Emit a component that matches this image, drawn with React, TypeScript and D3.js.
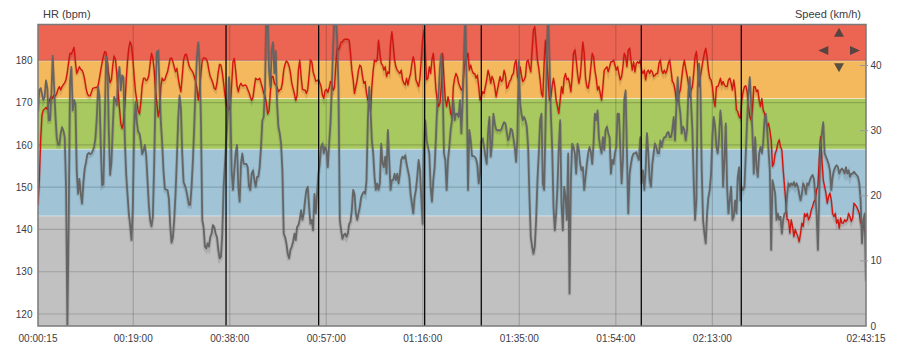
import React, { useEffect } from "react";
import * as d3 from "d3";

// ---- data -------------------------------------------------------------
const SAMPLE_START_S = 15;
const SAMPLE_INTERVAL_S = 15.774;

const hrBpm: number[] = [
  146, 151.7, 161.2, 167.1, 168.3, 168.5, 168.9, 168.4, 169.9, 171.0,
  171.6, 171.0, 171.8, 171.6, 172.1, 173.2, 173.8, 173.0, 173.8, 174.3,
  174.7, 175.5, 177.3, 179.7, 181.7, 181.5, 182.3, 183.1, 179.7, 176.9,
  177.7, 178.5, 177.9, 177.7, 176.9, 175.4, 173.4, 172.1, 171.6, 171.6,
  172.5, 173.4, 173.5, 173.6, 173.6, 174.0, 175.8, 177.7, 179.5, 181.0,
  182.1, 181.8, 179.3, 176.5, 174.7, 175.5, 178.9, 181.0, 180.3, 176.9,
  172.6, 168.7, 165.1, 163.9, 165.3, 169.2, 175.0, 179.7, 182.9, 184.4,
  183.6, 180.5, 176.2, 172.6, 170.5, 168.1, 167.3, 170.0, 174.0, 175.8,
  175.8, 175.2, 175.5, 176.5, 179.3, 181.7, 180.5, 177.7, 173.0, 169.9,
  166.7, 168.3, 173.8, 175.8, 175.2, 175.5, 176.5, 177.3, 178.9, 180.5,
  180.6, 179.7, 178.5, 177.3, 178.1, 175.8, 174.0, 172.6, 176.2, 180.1,
  181.3, 181.5, 180.3, 178.9, 178.1, 177.7, 177.2, 176.2, 175.1, 173.4,
  170.6, 173.0, 176.9, 180.1, 180.6, 180.6, 180.4, 179.5, 177.6, 176.2,
  175.5, 174.6, 173.4, 173.1, 174.6, 177.3, 179.1, 178.9, 177.1, 174.6,
  171.8, 169.7, 168.8, 168.4, 169.2, 174.2, 179.7, 180.5, 177.6, 174.0,
  172.6, 174.0, 174.6, 174.0, 174.0, 174.2, 174.0,
  173.2, 172.4, 171.4, 170.5, 171.3, 173.8, 175.8, 175.5, 175.5, 175.8,
  174.7, 173.6, 172.2, 171.7, 169.9, 167.3, 168.1, 172.6, 176.2, 176.2,
  174.6, 174.2, 173.8, 172.6, 173.0, 173.2, 174.7, 177.7, 179.1, 179.9,
  179.5, 178.7, 177.1, 174.7, 173.4, 172.1, 170.5, 171.8, 177.7, 180.1,
  176.2, 173.2, 173.0, 173.0, 172.2, 173.2, 176.5, 180.1, 179.7, 177.3,
  176.3, 175.1, 175.2, 175.5, 174.7, 173.8, 171.8, 171.0, 172.9, 173.2,
  172.4, 173.4, 175.0, 174.6, 172.9, 173.6, 178.9, 182.9, 182.5, 183.2,
  184.4, 184.4, 184.9, 185.0, 185.0, 185.0, 184.8, 181.7, 177.7, 175.4,
  172.2, 173.8, 175.4, 177.7, 178.9, 178.5, 176.2, 174.6, 175.0, 172.2,
  170.6, 170.2, 168.3, 173.8, 177.7, 180.1, 179.7, 180.1, 184.8, 181.7,
  179.3, 178.9, 177.7, 178.5, 176.2, 177.3, 176.9, 184.0, 186.8, 183.6,
  180.1, 178.5, 177.7, 177.3, 176.9, 177.7, 175.4, 174.6, 174.2, 175.8,
  174.2, 175.8, 176.9, 179.3, 180.9, 179.3, 175.4, 174.6, 173.8, 175.8,
  180.1, 184.8, 187.2, 181.7, 175.4, 175.8, 178.5, 176.9, 180.1, 181.7,
  177.7, 173.0, 170.6, 169.1, 169.9, 173.8, 181.7, 175.8, 170.6, 169.1,
  171.4, 169.9, 167.5, 166.7,
  173.8, 175.8, 176.9, 176.2, 174.6, 173.8, 173.0, 173.4, 177.7, 180.1,
  180.9, 181.7, 177.7, 178.9, 177.7, 176.9, 176.9, 175.8, 176.5, 173.8,
  170.6, 171.4, 172.6, 172.2, 173.8, 175.4, 177.7, 176.5, 174.6, 176.2,
  175.4, 173.8, 171.4, 173.0, 174.6, 176.2, 175.0, 175.4, 177.7, 176.5,
  173.4, 173.8, 175.0, 175.4, 176.5, 176.9, 179.3, 180.1, 176.2, 175.4,
  178.5, 176.5, 175.0, 175.4, 176.2, 179.7, 180.1, 178.5, 177.3, 182.5,
  187.2, 188.0, 184.0, 180.1, 178.1, 175.4, 172.2, 171.4, 179.3, 184.8,
  180.1, 175.4, 170.6, 171.4, 173.8, 175.8, 173.8, 170.6, 169.1, 167.5,
  170.6, 173.8, 172.2, 175.8, 176.9, 175.4, 175.8, 174.6, 172.6, 176.2,
  181.7, 182.5, 180.1, 176.9, 174.6, 176.2, 180.1, 184.4, 181.7, 175.8,
  173.8, 173.4, 175.4, 178.5, 181.7, 180.9, 177.7, 175.8, 173.0, 173.8,
  172.2, 170.6, 173.8, 177.7, 178.1, 178.5, 177.3, 178.5, 179.7, 179.7,
  180.1, 178.9, 177.7, 178.5, 176.9, 175.4, 176.2, 178.5, 181.7, 180.9,
  178.5, 182.5, 182.9, 180.1, 177.7, 179.7, 177.3, 179.3, 179.7, 179.3,
  180.1, 177.7, 176.9, 177.7, 175.4, 177.3, 177.7, 176.9, 177.7, 177.3,
  176.2, 176.5, 176.9, 176.9,
  179.3, 180.1, 177.7, 176.9, 177.7, 176.9, 177.7, 179.3, 180.1, 177.7,
  175.0, 174.6, 173.0, 170.6, 170.2, 172.2, 173.0, 175.8, 178.5, 180.1,
  178.1, 176.5, 174.6, 171.4, 173.0, 173.8, 176.9, 180.9, 182.1, 178.5,
  173.8, 176.2, 178.1, 180.1, 181.7, 182.9, 180.9, 177.7, 175.8, 175.4,
  173.8, 170.6, 169.1, 173.8, 173.8, 174.6, 175.8, 174.2, 175.0, 174.2,
  173.8, 173.8, 175.4, 175.8, 174.6, 173.0, 175.4, 173.0, 168.3, 167.9,
  166.7, 166.3, 170.6, 172.6, 173.8, 174.0, 172.6, 169.1, 166.7, 165.9,
  168.3, 173.8, 173.8, 172.6, 173.0, 170.6, 169.1, 171.0, 168.3, 167.5,
  165.9, 164.3, 165.1, 163.5, 161.2, 154.9, 155.7, 158.0, 158.8, 160.4,
  161.2, 159.6, 158.8, 154.1, 150.2, 146.2, 142.3, 142.3, 139.1, 142.3,
  140.7, 138.3, 140.0, 139.1, 138.3, 137.1, 139.1, 141.5, 140.7, 143.8,
  143.0, 143.8, 142.3, 143.0, 144.6, 145.4, 146.6, 147.0, 149.4, 150.2,
  156.5, 162.0, 156.5, 151.7, 150.2, 148.6, 146.2, 147.8, 148.6, 147.0,
  143.8, 143.0, 143.8, 141.5, 142.3, 140.3, 142.7, 141.5, 141.5, 142.3,
  141.9, 142.3, 143.8, 143.0, 141.9, 142.7, 146.2, 145.8, 145.4, 144.6,
  143.8, 141.5, 141.5, 140.7, 140.0, 138.3,
];

const speedKmh: number[] = [
  33.1, 36.2, 36.5, 35.6, 34.7, 35.2, 37.7, 36.5, 31.6, 31.6,
  35.2, 41.5, 37.0, 32.6, 29.0, 27.8, 27.8, 29.6, 30.5, 30.0,
  29.0, 21.4, 0.2, 16.3, 37.7, 39.8, 33.1, 34.7, 34.2, 23.9,
  20.3, 22.6, 20.3, 18.8, 22.1, 24.2, 25.2, 26.4, 26.6, 26.4,
  26.5, 26.9, 27.5, 28.8, 31.8, 36.7, 35.4, 27.8, 21.6, 21.8,
  31.6, 41.4, 40.3, 30.1, 23.2, 25.2, 30.6, 35.2, 34.7, 33.9,
  38.2, 39.8, 36.2, 38.5, 38.2, 28.8, 23.4, 20.3, 17.3, 15.5,
  13.2, 18.1, 30.3, 34.4, 31.3, 29.8, 29.6, 28.3, 26.4, 26.9,
  27.8, 26.2, 22.4, 18.6, 16.2, 15.3, 16.8, 24.9, 35.9, 42.1,
  42.3, 36.7, 31.3, 28.0, 23.7, 21.1, 20.9, 20.9, 19.6, 15.5,
  12.8, 13.6, 16.3, 20.3, 25.7, 31.8, 35.4, 33.4, 26.5, 22.1,
  21.6, 20.9, 19.8, 18.6, 18.6, 21.4, 25.5, 30.6, 36.7, 41.1,
  43.6, 40.3, 31.6, 16.3, 15.2, 12.2, 11.9, 12.7, 12.2, 13.7,
  14.2, 15.5, 15.2, 14.2, 13.7, 11.7, 10.4, 10.6, 14.2, 21.4,
  24.9, 28.5, 32.1, 38.2, 34.2, 23.9, 20.9, 23.9, 26.5, 27.8,
  21.4, 19.1, 24.9, 26.5, 24.9, 24.9, 24.9,
  24.4, 21.4, 20.9, 23.4, 23.9, 22.4, 21.4, 22.9, 22.9, 24.4,
  27.5, 31.6, 32.1, 36.7, 47.5, 47.5, 39.3, 36.7, 42.3, 43.6,
  38.8, 42.3, 34.2, 30.6, 29.6, 28.0, 23.9, 14.2, 13.7, 12.7,
  11.1, 10.4, 11.7, 12.2, 12.9, 14.2, 13.2, 15.2, 15.5, 16.3,
  17.8, 16.3, 17.3, 19.3, 20.9, 21.4, 18.3, 15.7, 16.3, 14.7,
  20.3, 17.3, 20.3, 23.4, 24.9, 27.5, 28.0, 26.5, 27.5, 27.0,
  24.4, 28.0, 31.1, 36.7, 42.8, 47.5, 47.5, 43.9, 36.7, 16.3,
  14.7, 13.4, 14.0, 14.2, 13.7, 14.2, 15.7, 16.0, 17.8, 20.9,
  20.3, 17.3, 16.3, 17.3, 18.3, 19.8, 20.3, 20.6, 20.3, 22.4,
  31.6, 36.7, 33.1, 28.5, 26.5, 22.9, 20.9, 21.9, 20.9, 21.9,
  28.0, 24.9, 24.4, 26.0, 23.4, 30.1, 25.5, 20.9, 22.4, 22.4,
  23.4, 22.4, 23.4, 21.9, 23.4, 25.5, 26.0, 25.7, 26.2, 24.9,
  23.9, 22.9, 20.3, 18.8, 17.3, 19.8, 20.9, 22.9, 25.5, 23.9,
  19.8, 15.7, 27.5, 31.6, 28.5, 27.5, 26.5, 21.4, 19.1, 22.4,
  24.4, 29.0, 34.2, 35.7, 39.8, 41.8, 36.7, 26.5, 25.5, 20.9,
  25.5, 27.5, 30.1, 31.6,
  34.7, 31.6, 32.6, 32.6, 32.1, 34.7, 29.6, 34.7, 41.8, 47.5,
  36.7, 20.9, 30.1, 28.5, 26.1, 26.1, 26.0, 25.7, 24.7, 21.9,
  23.4, 28.5, 28.8, 27.5, 26.0, 24.9, 29.6, 32.1, 26.0, 28.0,
  32.6, 31.1, 30.2, 30.0, 30.1, 30.0, 30.2, 30.8, 31.3, 31.1,
  29.8, 28.5, 29.0, 30.3, 30.1, 28.8, 27.5, 25.2, 29.0, 40.8,
  34.2, 32.6, 31.6, 32.1, 31.6, 30.6, 27.5, 19.8, 13.7, 12.2,
  11.1, 12.2, 16.3, 22.4, 26.5, 31.6, 32.6, 21.9, 20.9, 30.6,
  41.8, 47.5, 40.8, 32.6, 27.5, 18.3, 14.7, 17.3, 21.4, 27.5,
  31.6, 18.8, 14.7, 21.4, 19.8, 16.3, 26.5, 5.0, 22.4, 28.0,
  27.5, 26.5, 23.4, 28.0, 27.0, 24.9, 23.9, 24.4, 20.9, 22.9,
  24.9, 26.5, 27.5, 26.7, 24.9, 28.0, 32.6, 31.6, 33.1, 29.0,
  27.5, 26.5, 29.0, 27.0, 30.1, 30.6, 29.6, 29.0, 23.4, 25.5,
  24.9, 26.5, 27.5, 32.6, 32.6, 27.5, 21.9, 25.5, 34.7, 36.2,
  26.5, 17.3, 23.4, 24.9, 26.0, 26.5, 26.5, 26.7, 26.0, 25.5,
  29.0, 21.9, 23.9, 20.9, 23.9, 29.6, 26.5, 22.4, 21.4, 24.9,
  26.5, 28.0, 27.5, 26.5,
  26.5, 28.5, 27.5, 28.5, 29.0, 29.0, 29.6, 29.8, 29.0, 29.0,
  30.1, 32.1, 28.5, 33.6, 38.2, 34.2, 32.6, 29.6, 30.6, 30.1,
  28.5, 30.1, 35.7, 38.2, 34.2, 30.1, 22.4, 16.3, 19.3, 36.7,
  40.3, 36.7, 23.9, 16.3, 14.2, 12.7, 17.3, 19.8, 20.9, 23.4,
  29.0, 32.1, 30.6, 27.5, 26.5, 29.0, 33.1, 30.6, 21.4, 25.5,
  31.1, 21.4, 17.3, 19.3, 21.4, 16.3, 16.8, 19.3, 17.3, 22.9,
  24.4, 19.3, 21.4, 20.9, 21.4, 26.5, 31.6, 35.7, 38.2, 34.2,
  29.6, 23.4, 29.0, 24.4, 22.9, 26.5, 27.5, 26.5, 28.0, 31.6,
  32.6, 30.1, 27.0, 23.9, 11.7, 22.4, 21.4, 20.3, 16.3, 17.3,
  16.3, 16.8, 14.2, 16.3, 17.3, 17.3, 20.3, 21.9, 21.4, 21.9,
  21.6, 22.1, 21.4, 21.9, 21.4, 20.3, 19.3, 20.3, 21.9, 21.4,
  20.3, 21.9, 21.6, 22.4, 22.9, 23.2, 22.6, 20.3, 17.3, 11.7,
  20.3, 27.5, 29.6, 31.3, 26.5, 26.0, 25.5, 24.9, 23.9, 20.9,
  22.9, 23.9, 24.4, 24.7, 24.4, 23.4, 23.9, 24.2, 23.9, 23.4,
  24.4, 23.4, 23.9, 22.9, 23.4, 23.4, 23.7, 23.4, 23.2, 22.9,
  21.9, 19.3, 12.7, 16.3, 17.3, 7.1,
];

const hrZoneLimits = [143.2, 159.0, 171.0, 179.9];
const hrZoneColors = ["#c1c1c1", "#a0c4d6", "#a8c860", "#f5b95d", "#ec6553"];
const hrTicks = [120, 130, 140, 150, 160, 170, 180];
const speedTicks = [0, 10, 20, 30, 40];
const timeTicks = [15, 1140, 2280, 3420, 4560, 5700, 6840, 7980, 9795];
const lapMarks = [2236, 3330, 4582, 5251, 7141, 8322];

// ---- layout -----------------------------------------------------------
const W = 902;
const H = 353;
const P = { left: 38, right: 866, top: 24.5, bottom: 326 };
const FONT = "'Liberation Sans', Arial, Helvetica, sans-serif";

function fmtTime(s: number) {
  const h = Math.floor(s / 3600);
  const m = Math.floor((s % 3600) / 60);
  const sec = Math.round(s % 60);
  const p = (n: number) => String(n).padStart(2, "0");
  return `${p(h)}:${p(m)}:${p(sec)}`;
}

export default function App() {
  useEffect(() => {
    document.body.style.margin = "0";
  }, []);

  const x = d3.scaleLinear().domain([15, 9795]).range([P.left, P.right]);
  const yHr = d3.scaleLinear().domain([117.16, 188.5]).range([P.bottom, P.top]);
  const ySp = d3.scaleLinear().domain([0, 46.3]).range([P.bottom, P.top]);
  const tOf = (i: number) => SAMPLE_START_S + i * SAMPLE_INTERVAL_S;

  const hrLine = d3
    .line<number>()
    .x((_, i) => x(tOf(i)))
    .y((d) => yHr(d));
  const spLine = d3
    .line<number>()
    .x((_, i) => x(tOf(i)))
    .y((d) => ySp(d));

  const hrPath = hrLine(hrBpm) || "";
  const spPath = spLine(speedKmh) || "";

  const [hrMin, hrMax] = yHr.domain();
  const bounds = [hrMin, ...hrZoneLimits, hrMax];

  const textColor = "#3c3c46";

  return (
    <div style={{ position: "absolute", left: 0, top: 0 }}>
      <svg width={W} height={H} style={{ display: "block", background: "#fff" }}>
        <defs>
          <clipPath id="plotClip">
            <rect x={P.left} y={P.top} width={P.right - P.left} height={P.bottom - P.top} />
          </clipPath>
        </defs>

        {/* HR zones */}
        {hrZoneColors.map((c, i) => (
          <rect
            key={"z" + i}
            x={P.left}
            width={P.right - P.left}
            y={yHr(bounds[i + 1])}
            height={yHr(bounds[i]) - yHr(bounds[i + 1])}
            fill={c}
          />
        ))}
        {hrZoneLimits.map((v, i) => (
          <line
            key={"zl" + i}
            x1={P.left}
            x2={P.right}
            y1={yHr(v)}
            y2={yHr(v)}
            stroke="rgba(255,255,255,0.45)"
            strokeWidth={1}
          />
        ))}

        {/* grid */}
        {hrTicks.map((v) => (
          <line
            key={"gh" + v}
            x1={P.left}
            x2={P.right}
            y1={yHr(v)}
            y2={yHr(v)}
            stroke="rgba(0,0,0,0.17)"
            strokeWidth={1.2}
          />
        ))}
        {timeTicks.slice(1, -1).map((t) => (
          <line
            key={"gv" + t}
            x1={x(t)}
            x2={x(t)}
            y1={P.top}
            y2={P.bottom}
            stroke="rgba(0,0,0,0.17)"
            strokeWidth={1.2}
          />
        ))}

        {/* series */}
        <g clipPath="url(#plotClip)">
          <path d={hrPath} fill="none" stroke="rgba(0,0,0,0.1)" strokeWidth={3} transform="translate(0,2)" />
          <path d={hrPath} fill="none" stroke="#d3160f" strokeWidth={1.4} strokeLinejoin="round" />
          <path d={spPath} fill="none" stroke="rgba(0,0,0,0.1)" strokeWidth={3.5} transform="translate(0,2)" />
          <path d={spPath} fill="none" stroke="#656565" strokeWidth={1.8} strokeLinejoin="round" />
        </g>

        {/* lap markers */}
        {lapMarks.map((t) => (
          <line
            key={"lap" + t}
            x1={x(t)}
            x2={x(t)}
            y1={P.top}
            y2={P.bottom}
            stroke="#0a0a0a"
            strokeWidth={1.3}
          />
        ))}

        {/* border */}
        <rect
          x={P.left}
          y={P.top}
          width={P.right - P.left}
          height={P.bottom - P.top}
          fill="none"
          stroke="#7a7a7a"
          strokeWidth={1.5}
        />

        {/* navigation arrows */}
        <g fill="#3d3d3d" fillOpacity={0.85}>
          <polygon points="839,27.7 844,36.7 834,36.7" />
          <polygon points="818.3,50.5 828.3,46 828.3,55" />
          <polygon points="860,50.5 850,46 850,55" />
          <polygon points="839,72.3 834,63.3 844,63.3" />
        </g>

        {/* left axis */}
        <g fontFamily={FONT} fontSize={10} fill={textColor}>
          {hrTicks.map((v) => (
            <text key={"lh" + v} x={32.5} y={yHr(v)} dy="0.36em" textAnchor="end">
              {v}
            </text>
          ))}
        </g>

        {/* right axis */}
        <g fontFamily={FONT} fontSize={10} fill={textColor}>
          {speedTicks.map((v) => (
            <g key={"rs" + v}>
              {v > 0 && (
                <line x1={860} x2={868} y1={ySp(v)} y2={ySp(v)} stroke="#9a9a9a" strokeWidth={1} />
              )}
              <text x={870.5} y={ySp(v)} dy="0.36em" textAnchor="start">
                {v}
              </text>
            </g>
          ))}
        </g>

        {/* bottom axis */}
        <g fontFamily={FONT} fontSize={10} fill={textColor}>
          {timeTicks.map((t) => (
            <text key={"bt" + t} x={x(t)} y={341.5} textAnchor="middle">
              {fmtTime(t)}
            </text>
          ))}
        </g>

        {/* axis titles */}
        <text x={43} y={17.5} fontFamily={FONT} fontSize={11} fill={textColor}>
          HR (bpm)
        </text>
        <text x={861} y={17.5} fontFamily={FONT} fontSize={11} fill={textColor} textAnchor="end">
          Speed (km/h)
        </text>
      </svg>
    </div>
  );
}
